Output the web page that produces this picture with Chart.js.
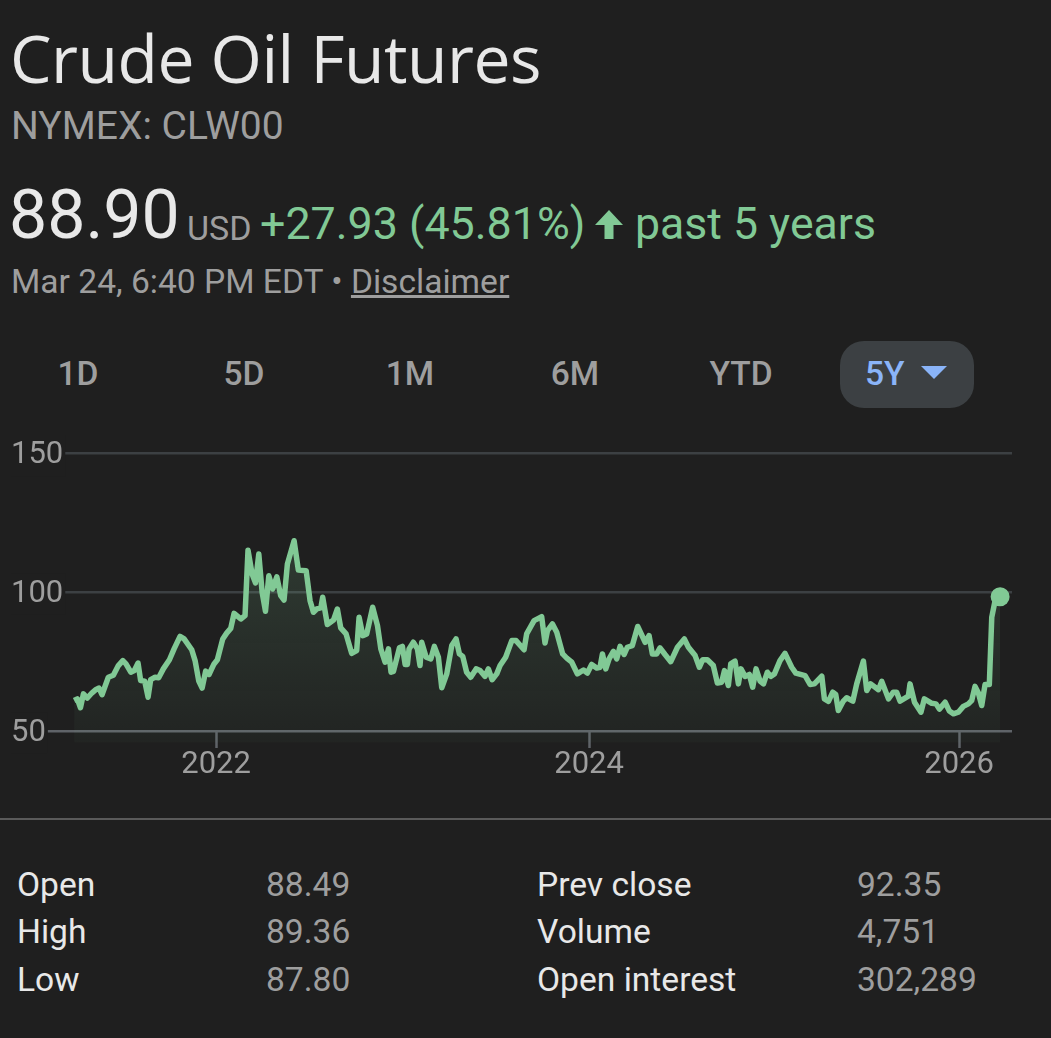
<!DOCTYPE html>
<html>
<head>
<meta charset="utf-8">
<title>Crude Oil Futures</title>
<script src="https://cdn.jsdelivr.net/npm/chart.js@4"></script>
<style>
  html, body { margin: 0; padding: 0; background: #1f1f1f; }
  body { width: 1051px; height: 1038px; position: relative; overflow: hidden; font-family: Roboto, sans-serif; color: #9e9e9e; }
  .t { position: absolute; white-space: nowrap; line-height: 1; }
  .green { color: #81c995; }
  .tab { font-size: 33.6px; font-weight: 500; top: 357px; transform: translateX(-50%); }
  .stat { font-size: 33.6px; }
  .lbl { color: #e8e8e8; }
  #pill { position: absolute; left: 840px; top: 341px; width: 134px; height: 67px; border-radius: 24px; background: #3c4043; }
  #tri { position: absolute; left: 921px; top: 366px; width: 0; height: 0; border-left: 13px solid transparent; border-right: 13px solid transparent; border-top: 13px solid #8ab4f8; }
  #rule { position: absolute; left: 0; top: 818px; width: 1051px; height: 2px; background: #5a5a5a; }
  #chartBox { position: absolute; left: 0; top: 435px; width: 1051px; height: 345px; }
</style>
</head>
<body>
<div class="t" style="left:10px;top:24px;font-size:66px;color:#e8e8e8;font-family:'Open Sans',sans-serif;letter-spacing:-0.5px">Crude Oil Futures</div>
<div class="t" style="left:11px;top:107px;font-size:39px">NYMEX: CLW00</div>
<div class="t" style="left:9px;top:181px;font-size:68px;color:#e8e8e8">88.90</div>
<div class="t" style="left:187px;top:211px;font-size:34px">USD</div>
<div class="t green" style="left:260px;top:202px;font-size:44.8px">+27.93 (45.81%)</div>
<svg style="position:absolute;left:594px;top:209px" width="30" height="31" viewBox="0 0 30 31"><path d="M15 1 L29 16 L19.5 16 L19.5 30 L10.5 30 L10.5 16 L1 16 Z" fill="#81c995"/></svg>
<div class="t green" style="left:635px;top:202px;font-size:44.6px">past 5 years</div>
<div class="t" style="left:11px;top:265px;font-size:33.6px">Mar 24, 6:40 PM EDT &bull; <span style="text-decoration:underline">Disclaimer</span></div>

<div class="t tab" style="left:78px">1D</div>
<div class="t tab" style="left:244px">5D</div>
<div class="t tab" style="left:410px">1M</div>
<div class="t tab" style="left:575px">6M</div>
<div class="t tab" style="left:741px">YTD</div>
<div id="pill"></div>
<div class="t" style="left:865px;top:357px;font-size:33.6px;font-weight:500;color:#8ab4f8">5Y</div>
<div id="tri"></div>

<div id="chartBox"><canvas id="priceChart"></canvas></div>

<div id="rule"></div>
<div class="t stat lbl" style="left:17px;top:868px">Open</div>
<div class="t stat" style="left:266px;top:868px">88.49</div>
<div class="t stat lbl" style="left:17px;top:915px">High</div>
<div class="t stat" style="left:266px;top:915px">89.36</div>
<div class="t stat lbl" style="left:17px;top:963px">Low</div>
<div class="t stat" style="left:266px;top:963px">87.80</div>
<div class="t stat lbl" style="left:537px;top:868px">Prev close</div>
<div class="t stat" style="left:857px;top:868px">92.35</div>
<div class="t stat lbl" style="left:537px;top:915px">Volume</div>
<div class="t stat" style="left:857px;top:915px">4,751</div>
<div class="t stat lbl" style="left:537px;top:963px">Open interest</div>
<div class="t stat" style="left:857px;top:963px">302,289</div>

<script>
'use strict';

// Data

const yearTicks = [2022, 2024.008, 2026];
const priceTicks = [50, 100, 150];

const dates = [
  2021.236, 2021.253, 2021.270, 2021.286, 2021.307, 2021.331, 2021.354, 2021.370, 2021.386, 2021.420,
  2021.447, 2021.474, 2021.498, 2021.515, 2021.541, 2021.560, 2021.580, 2021.594, 2021.616, 2021.634,
  2021.648, 2021.672, 2021.691, 2021.716, 2021.749, 2021.774, 2021.806, 2021.828, 2021.869, 2021.887,
  2021.907, 2021.925, 2021.944, 2021.962, 2021.989, 2022.007, 2022.036, 2022.057, 2022.079, 2022.097,
  2022.133, 2022.156, 2022.172, 2022.194, 2022.212, 2022.230, 2022.248, 2022.266, 2022.284, 2022.305,
  2022.327, 2022.348, 2022.366, 2022.384, 2022.420, 2022.443, 2022.485, 2022.506, 2022.524, 2022.542,
  2022.564, 2022.574, 2022.599, 2022.632, 2022.653, 2022.671, 2022.700, 2022.730, 2022.757, 2022.770,
  2022.790, 2022.811, 2022.843, 2022.869, 2022.887, 2022.910, 2022.928, 2022.942, 2022.955, 2022.987,
  2023.003, 2023.018, 2023.030, 2023.039, 2023.062, 2023.084, 2023.098, 2023.107, 2023.131, 2023.156,
  2023.175, 2023.197, 2023.215, 2023.242, 2023.269, 2023.292, 2023.310, 2023.328, 2023.349, 2023.371,
  2023.400, 2023.421, 2023.448, 2023.466, 2023.486, 2023.511, 2023.529, 2023.559, 2023.592, 2023.615,
  2023.658, 2023.672, 2023.712, 2023.753, 2023.771, 2023.784, 2023.811, 2023.834, 2023.866, 2023.888,
  2023.915, 2023.945, 2023.978, 2023.999, 2024.022, 2024.049, 2024.067, 2024.080, 2024.098, 2024.116,
  2024.139, 2024.157, 2024.175, 2024.197, 2024.214, 2024.241, 2024.270, 2024.310, 2024.331, 2024.349,
  2024.372, 2024.390, 2024.417, 2024.448, 2024.484, 2024.521, 2024.543, 2024.579, 2024.602, 2024.620,
  2024.645, 2024.677, 2024.699, 2024.722, 2024.737, 2024.758, 2024.771, 2024.794, 2024.812, 2024.826,
  2024.848, 2024.871, 2024.889, 2024.907, 2024.929, 2024.947, 2024.968, 2024.986, 2025.006, 2025.036,
  2025.063, 2025.099, 2025.121, 2025.171, 2025.198, 2025.221, 2025.261, 2025.275, 2025.297, 2025.320,
  2025.336, 2025.350, 2025.377, 2025.395, 2025.428, 2025.449, 2025.485, 2025.503, 2025.524, 2025.566,
  2025.584, 2025.620, 2025.646, 2025.664, 2025.682, 2025.727, 2025.736, 2025.760, 2025.795, 2025.813,
  2025.853, 2025.876, 2025.894, 2025.925, 2025.948, 2025.969, 2025.996, 2026.023, 2026.050, 2026.068,
  2026.086, 2026.104, 2026.122, 2026.140, 2026.163, 2026.176, 2026.194, 2026.221
];

const prices = [
  61.0, 61.6, 58.4, 63.4, 61.9, 63.7, 65.0, 65.5, 63.1, 69.4,
  70.1, 73.6, 75.4, 74.2, 71.2, 71.8, 74.5, 68.2, 68.0, 62.2,
  68.5, 69.4, 69.2, 72.4, 75.7, 79.6, 84.1, 83.2, 79.3, 75.4,
  68.0, 65.5, 71.6, 70.4, 74.2, 75.7, 83.2, 85.3, 87.0, 92.4,
  90.4, 91.6, 115.2, 106.6, 103.4, 113.8, 100.0, 93.2, 106.0, 101.2,
  105.6, 98.8, 97.2, 110.2, 118.6, 108.0, 107.8, 97.0, 92.8, 94.0,
  94.4, 98.2, 88.4, 90.0, 94.0, 87.2, 85.0, 78.0, 79.0, 91.0,
  84.4, 85.0, 94.6, 88.0, 79.6, 74.8, 79.6, 71.2, 71.5, 80.0,
  80.5, 74.0, 74.0, 79.6, 82.0, 79.6, 73.6, 82.0, 76.6, 76.0,
  80.5, 76.6, 65.6, 70.6, 80.8, 83.2, 77.8, 76.9, 71.2, 69.4,
  72.4, 71.8, 69.7, 72.4, 68.5, 70.6, 73.6, 76.6, 82.6, 82.6,
  79.3, 85.0, 89.8, 91.2, 81.7, 86.2, 88.6, 85.6, 77.8, 76.3,
  74.8, 70.6, 72.0, 70.9, 74.0, 72.7, 73.0, 77.8, 72.4, 76.0,
  78.7, 76.0, 80.5, 77.6, 80.2, 80.8, 87.7, 82.0, 84.4, 77.8,
  77.8, 80.0, 77.6, 75.0, 80.2, 83.2, 80.2, 77.2, 73.0, 75.7,
  75.7, 73.6, 67.3, 67.6, 71.8, 66.4, 74.2, 75.2, 67.0, 72.4,
  69.7, 70.4, 65.8, 72.4, 68.0, 67.0, 71.2, 69.7, 70.6, 75.4,
  78.0, 73.0, 70.9, 70.0, 66.8, 67.0, 69.8, 61.6, 60.7, 64.0,
  63.2, 57.4, 60.8, 62.0, 60.8, 67.0, 75.2, 64.6, 67.0, 64.9,
  67.9, 61.6, 64.0, 64.0, 60.8, 62.6, 67.0, 60.4, 56.8, 61.6,
  60.0, 59.8, 57.9, 60.4, 57.2, 56.2, 56.8, 58.9, 59.8, 61.0,
  66.1, 63.7, 59.2, 66.8, 66.8, 91.0, 97.0, 98.4
];

// Colors

const GREEN = '#81c995';
const GRID_DARK = '#3c4043';
const GRID_LIGHT = '#5f6368';
const TICK_TEXT = '#9e9e9e';
const BG = '#1f1f1f';

// Fill fades out toward the bottom of the plot

function areaFill(context) {
  const area = context.chart.chartArea;
  if (!area) {
    return 'rgba(129, 201, 149, 0.1)';
  }
  const grad = context.chart.ctx.createLinearGradient(0, area.top + 90, 0, area.bottom);
  grad.addColorStop(0, 'rgba(129, 201, 149, 0.16)');
  grad.addColorStop(1, 'rgba(129, 201, 149, 0.03)');
  return grad;
}

const points = dates.map((d, i) => ({ x: d, y: prices[i] }));
const lastIndex = points.length - 1;

new Chart(document.getElementById('priceChart'), {
  type: 'line',
  data: {
    datasets: [{
      data: points,
      borderColor: GREEN,
      borderWidth: 5.5,
      borderJoinStyle: 'round',
      tension: 0,
      fill: 'start',
      backgroundColor: areaFill,
      pointRadius: (c) => (c.dataIndex === lastIndex ? 9.5 : 0),
      pointBackgroundColor: GREEN,
      pointBorderWidth: 0
    }]
  },
  options: {
    responsive: true,
    maintainAspectRatio: false,
    animation: false,
    layout: { padding: { left: 11, right: 39, top: 9, bottom: 37.3 } },
    plugins: { legend: { display: false }, tooltip: { enabled: false } },
    scales: {
      x: {
        type: 'linear',
        min: 2020.896,
        max: 2026.285,
        position: { y: 50 },
        border: { display: false },
        grid: { drawOnChartArea: false, drawTicks: true, tickLength: 17, tickColor: GRID_LIGHT, tickWidth: 2.5 },
        afterBuildTicks: (scale) => { scale.ticks = yearTicks.map((v) => ({ value: v })); },
        ticks: {
          autoSkip: false,
          maxRotation: 0,
          padding: -1,
          color: TICK_TEXT,
          font: { family: 'Roboto', size: 31 },
          callback: (v) => String(Math.floor(v))
        }
      },
      y: {
        type: 'linear',
        min: 45.8,
        max: 150,
        border: { display: false },
        grid: {
          drawTicks: false,
          lineWidth: 2.5,
          color: (c) => (c.tick && c.tick.value === 50 ? GRID_LIGHT : GRID_DARK)
        },
        afterFit: (scale) => { scale.width = 0; },
        afterBuildTicks: (scale) => { scale.ticks = priceTicks.map((v) => ({ value: v })); },
        ticks: {
          mirror: true,
          padding: 0,
          labelOffset: 2,
          color: TICK_TEXT,
          font: { family: 'Roboto', size: 31 },
          showLabelBackdrop: true,
          backdropColor: BG,
          backdropPadding: { left: 0, right: 2, top: 2, bottom: 2 }
        }
      }
    }
  }
});
</script>
</body>
</html>
